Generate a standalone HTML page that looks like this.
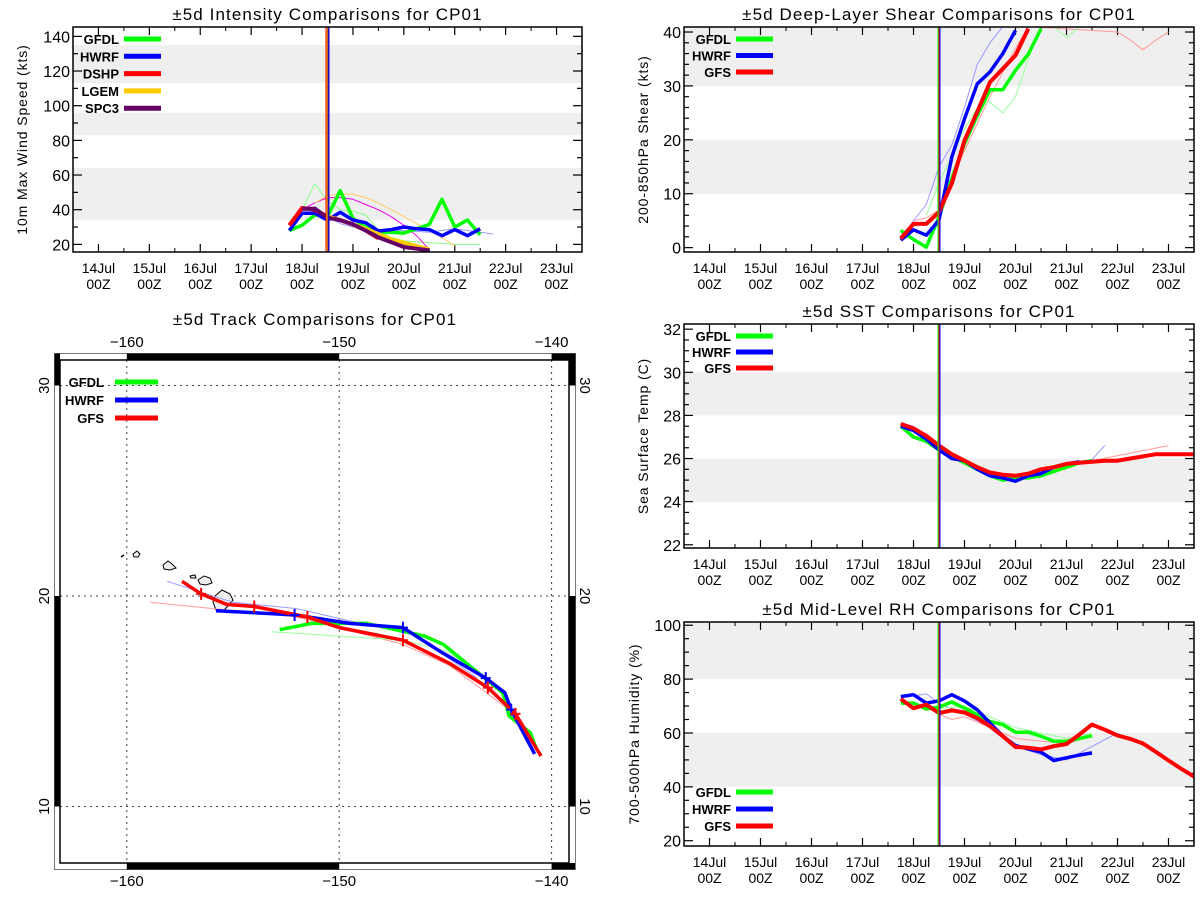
<!DOCTYPE html>
<html><head><meta charset="utf-8"><style>
html,body{margin:0;padding:0;background:#fff;}
svg{display:block;font-family:"Liberation Sans",sans-serif;}
</style></head><body>
<svg id="svg" width="1200" height="900" viewBox="0 0 1200 900" xmlns="http://www.w3.org/2000/svg"></svg>
<script>
// ---------- DATA ----------
// Time axis: hours since 14Jul 00Z
const dayLabels = ["14Jul","15Jul","16Jul","17Jul","18Jul","19Jul","20Jul","21Jul","22Jul","23Jul"];
const analysisHour = 108;

// Intensity (kts)
const intHoursGFDL = [90,96,102,108,114,120,126,132,138,144,150,156,162,168,174,180];
const intGFDL = [28,31,37,36,51,35,30,27,27,26.5,29,31.5,46,30,34,25.5];
const intHoursHWRF = [90,96,102,108,114,120,126,132,138,144,150,156,162,168,174,180];
const intHWRF = [28,38,38,34,38.5,34,32.5,27.7,28.5,30,29,28.5,25,28.5,25,29];
const intHoursDSHP = [90,96,102,108,114,120,126,132];
const intDSHP = [31,41,40,36,34,31.5,28,23.5];
const intHoursLGEM = [108,114,120,126,132,138,144,150,156];
const intLGEM = [36,34,31.5,29,26,23,21,19,17];
const intHoursSPC3 = [96,102,108,114,120,126,132,138,144,150,156];
const intSPC3 = [40.5,40.5,35.4,34,31.5,28,24,21.3,18.5,17.5,16.5];
const intHoursOldGFDL = [96,102,108,114,120,126,132,138,144,168,180];
const intOldGFDL = [40,55,45,40,39,37,28,24,22,20,20];
const intHoursOldDSHP = [96,102,108,114,120,126,132,138,144,150,156];
const intOldDSHP = [40,44,47,47,46,43,40,36,31,25,17];
const intHoursOldLGEM = [102,108,114,120,126,132,138,144,150,156,162,168];
const intOldLGEM = [44,48,49,49,47,44,40,36,32,28,24,19];
const intHoursOldHWRF = [102,108,114,120,126,132,144,156,168,180,186];
const intOldHWRF = [42,36,32,30,29,28,28,27,29,27,26];

// Shear (kts)
const shHoursGFDL = [90,96,102,108,114,120,126,132,138,144,150,156];
const shGFDL = [3.2,1.5,0.1,5.7,12.8,19.3,24.5,29.3,29.3,32.9,35.9,40.6];
const shHoursHWRF = [90,96,102,108,114,120,126,132,138,144];
const shHWRF = [1.4,3.3,2.3,5.1,16.8,23.9,30.4,32.6,36,40.3];
const shHoursGFS = [90,96,102,108,114,120,126,132,138,144,150];
const shGFS = [1.7,4.4,4.4,6.6,11.9,19.9,25.2,30.7,33.2,35.7,40.6];
const shHoursOldHWRF = [90,102,108,114,120,126,132,138];
const shOldHWRF = [2,8,15,19,26,34,38,41];
const shHoursOldGFS = [96,102,108,120,132,144,150,192,198,204,210,216];
const shOldGFS = [5,5.5,7,18,28,37,41,40,38.5,36.7,38.5,40];
const shHoursOldGFDL = [102,108,120,126,132,138,144,150,156,162,168,174];
const shOldGFDL = [6,12,22,26,27,25,28,35,41,41,38.9,41];

// SST (C)
const sstHoursGFDL = [90,96,102,108,114,120,126,132,138,144,150,156,162,168,174,180];
const sstGFDL = [27.5,27.0,26.8,26.4,26.1,25.8,25.5,25.2,25.0,25.1,25.1,25.2,25.4,25.6,25.8,25.9];
const sstHoursHWRF = [90,96,102,108,114,120,126,132,138,144,150,156,162,168,174];
const sstHWRF = [27.5,27.3,26.9,26.4,26.0,25.9,25.5,25.2,25.1,24.95,25.2,25.3,25.6,25.75,25.85];
const sstHoursGFS = [90,96,102,108,114,120,126,132,138,144,150,156,162,168,174,180,186,192,198,204,210,216,222,228];
const sstGFS = [27.6,27.4,27.05,26.6,26.2,25.9,25.6,25.35,25.25,25.2,25.3,25.5,25.6,25.75,25.8,25.85,25.9,25.9,26.0,26.1,26.2,26.2,26.2,26.2];
const sstHoursOldHWRF = [168,174,180,186];
const sstOldHWRF = [25.75,25.85,25.95,26.6];
const sstHoursOldGFS = [174,180,216];
const sstOldGFS = [25.8,25.9,26.6];

// Mid-level RH (%)
const rhHoursGFDL = [90,96,102,108,114,120,126,132,138,144,150,156,162,168,174,180];
const rhGFDL = [71.1,71.1,68.9,69.6,71.5,69.2,66.8,64.3,63.1,60.3,60.3,58.8,56.9,56.9,57.9,59.0];
const rhHoursHWRF = [90,96,102,108,114,120,126,132,138,144,150,156,162,168,174,180];
const rhHWRF = [73.5,74.2,71.1,71.9,74.2,71.9,68.6,63.7,58.8,55.3,54.1,52.9,49.8,50.8,51.8,52.6];
const rhHoursGFS = [90,96,102,108,114,120,126,132,138,144,150,156,162,168,174,180,186,192,198,204,210,216,222,228];
const rhGFS = [72.6,69.2,70.5,67.4,68.4,67.6,65.5,62.5,58.8,54.8,54.5,53.9,55.1,55.9,59.4,63.1,61.2,59.1,57.8,56.1,53.0,49.8,46.7,43.8];
const rhHoursOldHWRF = [90,102,108,120,132,144,156,168,180,192];
const rhOldHWRF = [73,74.5,71,67,62,55,52,50,55,60];
const rhHoursOldGFS = [108,114,120,132,144,156,168,180];
const rhOldGFS = [67,65,66,62,58,57,56,59];
const rhHoursOldGFDL = [108,120,132,144,156,168,180];
const rhOldGFDL = [69,70,66,62,60,58,60];

// Track (lon, lat)
const trkLonGFS = [-157.4,-156.5,-155.3,-154.0,-151.5,-150.0,-147.0,-144.8,-143.0,-141.7,-140.5];
const trkLatGFS = [20.7,20.1,19.6,19.5,19.0,18.5,17.9,16.8,15.65,14.4,12.4];
const trkLonHWRF = [-155.8,-152.1,-149.5,-147.0,-145.3,-143.1,-142.2,-141.9,-140.8];
const trkLatHWRF = [19.3,19.1,18.7,18.5,17.4,16.1,15.4,14.6,12.5];
const trkLonGFDL = [-152.8,-151.3,-148.7,-146.0,-145.1,-142.3,-142.0,-141.0,-140.7];
const trkLatGFDL = [18.4,18.7,18.7,18.1,17.7,15.4,14.3,13.5,12.7];
const trkLonOldGFS = [-158.9,-152.0,-147.0,-144.8,-142.0];
const trkLatOldGFS = [19.7,19.0,17.7,16.7,14.6];
const trkLonOldHWRF = [-158.1,-155.0,-152.0,-149.0,-146.5,-143.5];
const trkLatOldHWRF = [20.7,19.7,19.4,18.7,18.2,16.1];
const trkLonOldGFDL = [-153.2,-147.0,-145.0,-143.0];
const trkLatOldGFDL = [18.3,17.9,17.4,16.1];
const trkMarkLonGFS = [-156.5,-154.0,-151.5,-147.0,-143.0,-141.7];
const trkMarkLatGFS = [20.1,19.5,19.0,17.9,15.65,14.4];
const trkMarkLonHWRF = [-152.1,-147.0,-143.1,-141.9];
const trkMarkLatHWRF = [19.1,18.5,16.1,14.6];

// ---------- DRAWING ----------
const NS = "http://www.w3.org/2000/svg";
const svg = document.getElementById("svg");
function el(tag, attrs, parent, txt){
  const e = document.createElementNS(NS, tag);
  for (const k in attrs) e.setAttribute(k, attrs[k]);
  if (txt !== undefined) e.textContent = txt;
  (parent || svg).appendChild(e);
  return e;
}
const GREEN="#00ff00", BLUE="#0000ff", RED="#ff0000", YEL="#ffcc00", PURP="#660066";

function timePanel(cfg){
  const g = el("g",{});
  
  
  const x0=684,x1=1194;
  const bx0 = cfg.x0!==undefined?cfg.x0:x0, bx1 = cfg.x1!==undefined?cfg.x1:x1;
  const X = h => bx0 + (h + 12) / 240 * (bx1 - bx0);
  const Y = v => cfg.y1 - (v - cfg.vmin) / (cfg.vmax - cfg.vmin) * (cfg.y1 - cfg.y0);
  const clipId = cfg.name + "-clip";
  const cp = el("clipPath",{id:clipId},g);
  el("rect",{x:bx0,y:cfg.y0,width:bx1-bx0,height:cfg.y1-cfg.y0},cp);
  cfg.bands.forEach(b=>{
    const r = el("rect",{x:bx0,y:Y(Math.min(b[1],cfg.vmax)),width:bx1-bx0,height:Y(b[0])-Y(Math.min(b[1],cfg.vmax)),fill:"#efefef"},g);
    
    
  });
  const t = el("text",{x:(bx0+bx1)/2,y:cfg.y0-7,"text-anchor":"middle","font-size":"17","letter-spacing":"1.1",fill:"#000"},g,cfg.title);
  
  
  const yt = el("text",{x:0,y:0,transform:`translate(${cfg.ytx},${(cfg.y0+cfg.y1)/2}) rotate(-90)`,"text-anchor":"middle","font-size":"14","letter-spacing":"0.9",fill:"#000"},g,cfg.ytitle);
  
  
  for(let h=0; h<=216; h+=24){
    const x=X(h);
    el("line",{x1:x,y1:cfg.y1,x2:x,y2:cfg.y1-8,stroke:"#000","stroke-width":1.2},g);
    el("line",{x1:x,y1:cfg.y0,x2:x,y2:cfg.y0+8,stroke:"#000","stroke-width":1.2},g);
    const lab = el("text",{x:x,y:cfg.y1+21,"text-anchor":"middle","font-size":"14",fill:"#000"},g,dayLabels[h/24]);
    
    
    el("text",{x:x,y:cfg.y1+37,"text-anchor":"middle","font-size":"14",fill:"#000"},g,"00Z");
  }
  for(let h=-12; h<=228; h+=12){ if(h%24===0) continue;
    const x=X(h);
    el("line",{x1:x,y1:cfg.y1,x2:x,y2:cfg.y1-4,stroke:"#000"},g);
    el("line",{x1:x,y1:cfg.y0,x2:x,y2:cfg.y0+4,stroke:"#000"},g);
  }
  const eps=1e-6;
  for(let v=Math.ceil(cfg.vmin/cfg.minor)*cfg.minor; v<=cfg.vmax+eps; v+=cfg.minor){
    const y=Y(v);
    const major = Math.abs(v/cfg.major - Math.round(v/cfg.major))<1e-6;
    const len = major?9:5;
    el("line",{x1:bx0,y1:y,x2:bx0+len,y2:y,stroke:"#000","stroke-width":1.2},g);
    el("line",{x1:bx1,y1:y,x2:bx1-len,y2:y,stroke:"#000","stroke-width":1.2},g);
    if(major){
      const lab = el("text",{x:bx0-3,y:y+6,"text-anchor":"end","font-size":"16",fill:"#000"},g,String(Math.round(v)));
      
      
    }
  }
  const sg = el("g",{"clip-path":`url(#${clipId})`},g);
  cfg.series.forEach(s=>{
    const pts = s.h.map((h,i)=>X(h).toFixed(1)+","+Y(s.v[i]).toFixed(1)).join(" ");
    const p = el("polyline",{points:pts,fill:"none",stroke:s.c,"stroke-width":s.w,"stroke-linejoin":"round","stroke-opacity":s.o||1},sg);
    
    
  });
  cfg.vlines.forEach((c,i)=>{
    const x = X(analysisHour) + (i - (cfg.vlines.length-1)/2) * 1;
    const l = el("line",{x1:x,y1:cfg.y0,x2:x,y2:cfg.y1,stroke:c,"stroke-width":1},g);
    
    
  });
  const fr = el("rect",{x:bx0,y:cfg.y0,width:bx1-bx0,height:cfg.y1-cfg.y0,fill:"none",stroke:"#000","stroke-width":1.5},g);
  
  
  cfg.legend.forEach((L,i)=>{
    const y = cfg.ly + i*cfg.lgap;
    const lt = el("text",{x:cfg.lx,y:y+5,"text-anchor":"end","font-size":"13","font-weight":"bold",fill:"#000"},g,L[0]);
    
    
    const ll = el("line",{x1:cfg.lx+5,y1:y,x2:cfg.lx+42,y2:y,stroke:L[1],"stroke-width":5},g);
    
    
  });
}

timePanel({name:"intensity-chart",title:"±5d Intensity Comparisons for CP01",ytitle:"10m Max Wind Speed (kts)",ytx:27,
  x0:73,x1:582,y0:27,y1:252,vmin:15.6,vmax:145.4,major:20,minor:10,
  bands:[[34,64],[83,96],[113,135]],
  series:[
    {n:"gfdl-old-forecast",h:intHoursOldGFDL,v:intOldGFDL,c:"#88ff88",w:1},
    {n:"dshp-old-forecast",h:intHoursOldDSHP,v:intOldDSHP,c:"#ee00ee",w:1},
    {n:"lgem-old-forecast",h:intHoursOldLGEM,v:intOldLGEM,c:"#ffcc66",w:1},
    {n:"hwrf-old-forecast",h:intHoursOldHWRF,v:intOldHWRF,c:"#9999ff",w:1},
    {n:"gfdl-intensity-line",h:intHoursGFDL,v:intGFDL,c:GREEN,w:3.5},
    {n:"hwrf-intensity-line",h:intHoursHWRF,v:intHWRF,c:BLUE,w:3.5},
    {n:"dshp-intensity-line",h:intHoursDSHP,v:intDSHP,c:RED,w:4},
    {n:"lgem-intensity-line",h:intHoursLGEM,v:intLGEM,c:YEL,w:4},
    {n:"spc3-intensity-line",h:intHoursSPC3,v:intSPC3,c:PURP,w:4}],
  vlines:[RED,YEL,PURP,BLUE],
  legend:[["GFDL",GREEN],["HWRF",BLUE],["DSHP",RED],["LGEM",YEL],["SPC3",PURP]],lx:119,ly:39,lgap:17.3});

timePanel({name:"shear-chart",title:"±5d Deep-Layer Shear Comparisons for CP01",ytitle:"200-850hPa Shear (kts)",ytx:648,
  y0:27,y1:252,vmin:-0.81,vmax:40.93,major:10,minor:2,
  bands:[[10,20],[30,40.93]],
  series:[
    {n:"hwrf-old-forecast",h:shHoursOldHWRF,v:shOldHWRF,c:"#9999ff",w:1},
    {n:"gfs-old-forecast",h:shHoursOldGFS,v:shOldGFS,c:"#ff9999",w:1},
    {n:"gfdl-old-forecast",h:shHoursOldGFDL,v:shOldGFDL,c:"#99ff99",w:1},
    {n:"gfdl-shear-line",h:shHoursGFDL,v:shGFDL,c:GREEN,w:3.5},
    {n:"hwrf-shear-line",h:shHoursHWRF,v:shHWRF,c:BLUE,w:3.5},
    {n:"gfs-shear-line",h:shHoursGFS,v:shGFS,c:RED,w:4}],
  vlines:[GREEN,RED,BLUE],
  legend:[["GFDL",GREEN],["HWRF",BLUE],["GFS",RED]],lx:731,ly:39,lgap:16.5});

timePanel({name:"sst-chart",title:"±5d SST Comparisons for CP01",ytitle:"Sea Surface Temp (C)",ytx:648,
  y0:324,y1:548,vmin:21.85,vmax:32.24,major:2,minor:0.5,
  bands:[[24,26],[28,30]],
  series:[
    {n:"hwrf-old-forecast",h:sstHoursOldHWRF,v:sstOldHWRF,c:"#9999ff",w:1},
    {n:"gfs-old-forecast",h:sstHoursOldGFS,v:sstOldGFS,c:"#ff9999",w:1},
    {n:"gfdl-sst-line",h:sstHoursGFDL,v:sstGFDL,c:GREEN,w:3.5},
    {n:"hwrf-sst-line",h:sstHoursHWRF,v:sstHWRF,c:BLUE,w:3.5},
    {n:"gfs-sst-line",h:sstHoursGFS,v:sstGFS,c:RED,w:4}],
  vlines:[GREEN,RED,BLUE],
  legend:[["GFDL",GREEN],["HWRF",BLUE],["GFS",RED]],lx:731,ly:336,lgap:16});

timePanel({name:"rh-chart",title:"±5d Mid-Level RH Comparisons for CP01",ytitle:"700-500hPa Humidity (%)",ytx:639,
  y0:622,y1:846,vmin:18.04,vmax:101.2,major:20,minor:5,
  bands:[[40,60],[80,101.2]],
  series:[
    {n:"hwrf-old-forecast",h:rhHoursOldHWRF,v:rhOldHWRF,c:"#9999ff",w:1},
    {n:"gfs-old-forecast",h:rhHoursOldGFS,v:rhOldGFS,c:"#ff9999",w:1},
    {n:"gfdl-old-forecast",h:rhHoursOldGFDL,v:rhOldGFDL,c:"#99ff99",w:1},
    {n:"gfdl-rh-line",h:rhHoursGFDL,v:rhGFDL,c:GREEN,w:3.5},
    {n:"hwrf-rh-line",h:rhHoursHWRF,v:rhHWRF,c:BLUE,w:3.5},
    {n:"gfs-rh-line",h:rhHoursGFS,v:rhGFS,c:RED,w:4}],
  vlines:[GREEN,RED,BLUE],
  legend:[["GFDL",GREEN],["HWRF",BLUE],["GFS",RED]],lx:731,ly:792,lgap:17});

// ---------- TRACK MAP ----------
(function(){
  const g = el("g",{});
  
  
  const ix0=60, ix1=569, iy0=360, iy1=863;
  const LX = lon => 126.8 + (lon + 160) * 21.24;
  const LY = lat => 596 - (lat - 20) * 21.05;
  const t = el("text",{x:315,y:325,"text-anchor":"middle","font-size":"17","letter-spacing":"1.1",fill:"#000"},g,"±5d Track Comparisons for CP01");
  
  
  el("rect",{x:54.5,y:353.5,width:521,height:516,fill:"none",stroke:"#777","stroke-width":1},g);
  const bar=(x,y,w,h)=>el("rect",{x:x,y:y,width:w,height:h,fill:"#000"},g);
  bar(LX(-160),353.5,LX(-150)-LX(-160),6.5); bar(LX(-140),353.5,569-LX(-140)+6,6.5);
  bar(LX(-160),863,LX(-150)-LX(-160),6.5); bar(LX(-140),863,569-LX(-140)+6,6.5);
  bar(54.5,353.5,5.5,LY(30)-353.5); bar(54.5,LY(20),5.5,LY(10)-LY(20));
  bar(569,353.5,6.5,LY(30)-353.5); bar(569,LY(20),6.5,LY(10)-LY(20));
  [-160,-150,-140].forEach(lon=>{
    el("line",{x1:LX(lon),y1:iy0,x2:LX(lon),y2:iy1,stroke:"#444","stroke-dasharray":"2,4"},g);
    const a=el("text",{x:LX(lon),y:347,"text-anchor":"middle","font-size":"15",fill:"#000"},g,"\u2212"+(-lon));
    
    
    el("text",{x:LX(lon),y:886,"text-anchor":"middle","font-size":"15",fill:"#000"},g,"\u2212"+(-lon));
  });
  [30,20,10].forEach(lat=>{
    el("line",{x1:ix0,y1:LY(lat),x2:ix1,y2:LY(lat),stroke:"#444","stroke-dasharray":"2,4"},g);
    const a=el("text",{x:0,y:0,transform:`translate(49,${LY(lat)}) rotate(-90)`,"text-anchor":"middle","font-size":"15",fill:"#000"},g,String(lat));
    
    
    el("text",{x:0,y:0,transform:`translate(580,${LY(lat)}) rotate(90)`,"text-anchor":"middle","font-size":"15",fill:"#000"},g,String(lat));
  });
  el("rect",{x:ix0,y:iy0,width:ix1-ix0,height:iy1-iy0,fill:"none",stroke:"#000","stroke-width":1.5},g);
  const isl = [
    "M215,596 L222,590 L230,594 L233,600 L228,606 L222,612 L216,610 L213,602 Z",
    "M198,580 L204,576 L210,578 L212,583 L206,585 L200,584 Z",
    "M163,565 L168,561 L172,564 L176,568 L170,570 L164,569 Z",
    "M133,554 L137,551 L140,554 L138,557 L134,557 Z",
    "M190,576 L195,575 L196,578 L191,578 Z"];
  isl.forEach(d=>{
    const p=el("path",{d:d,fill:"#eee",stroke:"#000","stroke-width":1},g);
    
    
  });
  el("path",{d:"M121,557 L124,555",stroke:"#000","stroke-width":1.5,fill:"none"},g);
  const tracks = [
    ["gfs-old-track",trkLonOldGFS,trkLatOldGFS,"#ff9999",1],
    ["hwrf-old-track",trkLonOldHWRF,trkLatOldHWRF,"#9999ff",1],
    ["gfdl-old-track",trkLonOldGFDL,trkLatOldGFDL,"#99ff99",1],
    ["gfdl-track",trkLonGFDL,trkLatGFDL,GREEN,3.5],
    ["hwrf-track",trkLonHWRF,trkLatHWRF,BLUE,3.5],
    ["gfs-track",trkLonGFS,trkLatGFS,RED,3.5]];
  tracks.forEach(T=>{
    const pts=T[1].map((lo,i)=>LX(lo).toFixed(1)+","+LY(T[2][i]).toFixed(1)).join(" ");
    const p=el("polyline",{points:pts,fill:"none",stroke:T[3],"stroke-width":T[4],"stroke-linejoin":"round"},g);
    
    
  });
  const marks=(lons,lats,c)=>lons.forEach((lo,i)=>{
    const x=LX(lo),y=LY(lats[i]);
    const m=el("path",{d:`M${x-5},${y} L${x+5},${y} M${x},${y-6} L${x},${y+6}`,stroke:c,"stroke-width":2},g);
    
    
  });
  marks(trkMarkLonHWRF,trkMarkLatHWRF,BLUE);
  marks(trkMarkLonGFS,trkMarkLatGFS,RED);
  [["GFDL",GREEN],["HWRF",BLUE],["GFS",RED]].forEach((L,i)=>{
    const y=382+i*18;
    const lt=el("text",{x:104,y:y+5,"text-anchor":"end","font-size":"13","font-weight":"bold",fill:"#000"},g,L[0]);
    
    
    const ll=el("line",{x1:115,y1:y,x2:158,y2:y,stroke:L[1],"stroke-width":5},g);
    
    
  });
})();
</script>
</body></html>
